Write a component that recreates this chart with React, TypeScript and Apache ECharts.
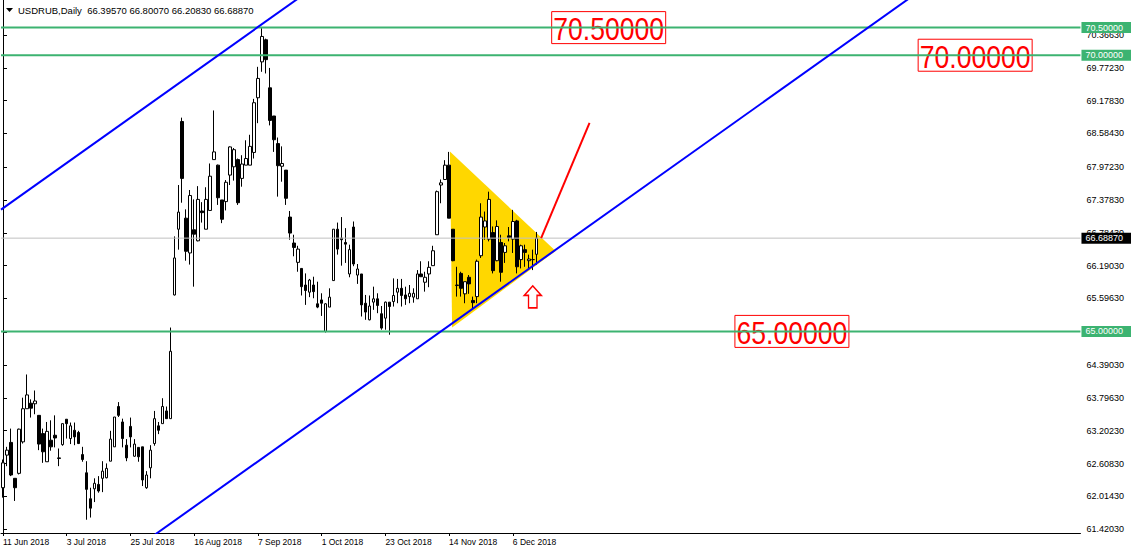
import React, { useEffect, useRef } from "react";
import * as echarts from "echarts";

const SYMBOL = "USDRUB";
const PERIOD = "Daily";
const SLOT_COUNT = 271;
const LABEL_STEP = 16;
const dateLabels = ["11 Jun 2018", "3 Jul 2018", "25 Jul 2018", "16 Aug 2018", "7 Sep 2018", "1 Oct 2018", "23 Oct 2018", "14 Nov 2018", "6 Dec 2018"];

const opens = [
  62.17, 62.76, 62.99, 62.34, 62.43, 63.0, 63.6, 63.7, 63.69, 63.48,
  63.15, 62.64, 63.03, 63.12, 62.71, 62.95, 63.41, 63.06, 63.21, 63.17,
  62.77, 62.44, 61.97, 62.15, 62.23, 62.34, 62.35, 62.65, 62.91, 63.64,
  63.36, 62.94, 63.28, 62.74, 62.9, 62.91, 62.17, 62.53, 62.97, 63.29,
  63.33, 63.56, 63.42, 65.66, 66.85, 68.8, 67.05, 66.42, 66.84, 66.64,
  67.18, 66.85, 67.19, 68.11, 68.01, 67.38, 67.35, 67.83, 67.98, 68.11,
  67.77, 68.01, 68.01, 68.24, 69.23, 69.88, 70.28, 69.41, 68.9, 68.4,
  67.99, 67.92, 67.07, 66.6, 66.25, 66.14, 65.84, 65.71, 65.84, 65.5,
  65.57, 65.0, 65.44, 65.92, 66.85, 66.69, 66.61, 66.04, 66.89, 66.02,
  66.04, 65.51, 65.21, 65.53, 65.59, 65.32, 65.24, 65.53, 65.54, 65.71,
  65.78, 65.66, 65.63, 65.62, 65.59, 66.04, 65.89, 66.04, 66.19, 66.75,
  67.65, 67.75, 68.01, 66.85, 65.83, 66.05, 65.68, 65.98, 65.56, 65.63,
  66.37, 66.89, 66.67, 66.79, 66.28, 66.61, 66.43, 66.73, 66.67, 67.0,
  66.3, 66.48, 66.28, 66.3, 66.3957
];
const closes = [
  62.62, 62.85, 62.4, 62.17, 63.23, 63.6, 63.85, 63.61, 63.74, 62.96,
  62.82, 63.19, 62.91, 63.07, 62.7, 63.33, 63.33, 63.29, 63.09, 62.97,
  62.68, 62.14, 61.8, 62.25, 62.11, 62.47, 62.52, 63.05, 63.45, 63.48,
  63.06, 62.71, 63.09, 62.96, 62.73, 62.31, 62.4, 62.85, 63.42, 63.21,
  63.64, 63.42, 64.64, 66.33, 67.16, 67.77, 66.45, 67.46, 66.76, 67.39,
  67.15, 67.39, 67.81, 68.25, 67.42, 67.03, 67.7, 68.34, 68.29, 67.33,
  68.03, 68.13, 68.35, 69.14, 69.58, 70.34, 69.92, 68.82, 68.47, 68.0,
  68.04, 67.41, 66.78, 66.52, 66.49, 65.81, 65.74, 65.93, 65.72, 65.44,
  65.51, 65.5, 65.62, 66.85, 66.49, 66.66, 66.58, 66.48, 66.22, 66.13,
  65.48, 65.35, 65.46, 65.59, 65.47, 65.06, 65.53, 65.45, 65.65, 65.78,
  65.65, 65.59, 65.69, 65.69, 66.04, 65.99, 65.98, 66.16, 66.46, 67.53,
  67.69, 68.01, 67.05, 66.28, 65.84, 65.78, 65.9, 65.86, 65.52, 66.27,
  67.07, 67.0, 67.39, 66.1, 66.9, 66.07, 66.55, 66.7, 66.99, 66.17,
  66.55, 66.43, 66.31, 66.3, 66.6887
];
const lows = [
  61.99, 62.56, 62.38, 61.93, 62.41, 62.97, 63.6, 63.44, 63.5, 62.85,
  62.62, 62.64, 62.84, 62.9, 62.56, 62.93, 63.06, 62.96, 62.94, 62.96,
  62.64, 61.59, 61.63, 61.91, 62.08, 62.09, 62.34, 62.65, 62.91, 63.45,
  62.9, 62.65, 62.9, 62.73, 62.64, 62.2, 62.15, 62.34, 62.93, 63.14,
  63.33, 63.42, 63.42, 65.65, 66.48, 67.33, 66.28, 66.21, 65.81, 66.63,
  66.97, 66.85, 67.19, 68.11, 67.29, 66.96, 67.19, 67.65, 67.73, 67.29,
  67.62, 68.01, 68.01, 68.13, 68.77, 69.7, 69.67, 68.73, 68.25, 67.44,
  67.71, 67.29, 66.66, 66.36, 66.08, 65.65, 65.48, 65.62, 65.6, 65.42,
  65.28, 64.98, 65.44, 65.92, 66.39, 66.19, 66.24, 65.98, 66.18, 65.86,
  65.27, 65.21, 65.2, 65.39, 65.33, 65.03, 65.03, 64.94, 65.45, 65.51,
  65.45, 65.48, 65.51, 65.52, 65.59, 65.99, 65.72, 65.8, 66.19, 66.75,
  67.32, 67.75, 67.05, 66.27, 65.63, 65.63, 65.51, 65.68, 65.42, 65.51,
  66.33, 66.66, 66.63, 66.05, 66.27, 65.9, 66.24, 66.63, 66.42, 66.05,
  66.14, 66.17, 66.14, 66.11, 66.2083
];
const highs = [
  62.68, 62.91, 63.24, 62.34, 63.24, 63.8, 64.22, 63.77, 63.93, 63.48,
  63.24, 63.36, 63.39, 63.48, 62.88, 63.33, 63.41, 63.35, 63.35, 63.2,
  62.91, 62.65, 62.17, 62.34, 62.38, 62.65, 62.61, 63.2, 63.45, 63.72,
  63.42, 63.05, 63.44, 63.05, 62.9, 62.91, 62.47, 62.94, 63.56, 63.36,
  63.79, 63.64, 65.07, 66.72, 67.65, 68.87, 67.21, 67.56, 67.39, 67.63,
  67.34, 67.61, 68.04, 69.0, 68.02, 67.38, 67.74, 68.35, 68.32, 68.13,
  68.19, 68.46, 68.56, 69.21, 69.79, 70.49, 70.3, 69.77, 68.9, 68.51,
  68.35, 67.92, 67.18, 66.75, 66.55, 66.14, 66.05, 65.95, 65.99, 65.9,
  65.69, 65.51, 65.78, 66.85, 66.97, 67.07, 66.87, 66.57, 66.99, 66.22,
  66.04, 65.66, 65.65, 65.81, 65.69, 65.46, 65.54, 65.53, 65.96, 65.95,
  65.95, 65.81, 65.84, 65.78, 66.11, 66.27, 66.08, 66.27, 66.55, 67.55,
  67.75, 68.1, 68.25, 66.85, 66.17, 66.08, 65.9, 66.02, 65.63, 66.3,
  67.32, 67.17, 67.53, 66.9, 67.01, 66.75, 66.6, 66.89, 67.2, 67.02,
  66.57, 66.57, 66.39, 66.48, 66.8007
];

const yTickValues = [61.4203, 62.0143, 62.6083, 63.2023, 63.7963, 64.3903, 64.9843, 65.5963, 66.1903, 66.7843, 67.3783, 67.9723, 68.5843, 69.1783, 69.7723, 70.3663];
const Y_MIN = 61.35;
const Y_MAX = 71.0;

const levels = [70.5, 70.0, 65.0];
const bidPrice = 66.6887;
const channelUpper = [[-0.5, 67.205], [80, 71.33]];
const channelLower = [[30, 60.903], [240, 71.67]];
const triangleX = [112.2, 138.75, 112.75];
const triangleY = [68.255, 66.457, 65.072];
const projection = [[135.1, 66.687], [147.25, 68.774]];
const arrowAt = [133, 65.625];
const levelTextAt = [[137.75, 70.5], [229.75, 70.0], [183.75, 65.0]];

const SMALL_FONT = "Liberation Sans, Arial, sans-serif";
const BIG_FONT = '"Liberation Sans", Arial, sans-serif';
const GREEN = "#3cb371";
const BLUE = "#0000ff";
const RED = "#ff0000";

const labelIndex = (i: number) => i % LABEL_STEP === 0 && i / LABEL_STEP < dateLabels.length;

export default function App() {
  const ref = useRef<HTMLDivElement>(null);
  useEffect(() => {
    document.body.style.margin = "0";
    if (!ref.current) return;
    const chart = echarts.init(ref.current, null, { renderer: "svg" });
    const categories = Array.from({ length: SLOT_COUNT }, (_, i) => String(i));
    const candles = opens.map((o, i) => [o, closes[i], lows[i], highs[i]]);
    const last = opens.length - 1;
    const titleText = `${SYMBOL},${PERIOD}  ${opens[last].toFixed(5)} ${highs[last].toFixed(5)} ${lows[last].toFixed(5)} ${closes[last].toFixed(5)}`;

    const hLine = (v: number, color: string, width: number) => ({
      type: "line",
      xAxisIndex: 1,
      yAxisIndex: 0,
      data: [[-0.5, v], [SLOT_COUNT - 0.5, v]],
      symbol: "none",
      silent: true,
      lineStyle: { color, width },
    });

    const option: any = {
      animation: false,
      backgroundColor: "#ffffff",
      grid: { left: 1, right: 48, top: 0, height: 533 },
      xAxis: [
        {
          type: "category",
          data: categories,
          boundaryGap: true,
          axisLine: { show: true, lineStyle: { color: "#000", width: 1 } },
          axisTick: { show: true, alignWithLabel: true, interval: (i: number) => labelIndex(i), length: 3, lineStyle: { color: "#000" } },
          axisLabel: {
            interval: (i: number) => labelIndex(i),
            formatter: (_v: string, i: number) => (labelIndex(i) ? dateLabels[i / LABEL_STEP] : ""),
            align: "left",
            margin: 4,
            fontSize: 8.5,
            fontFamily: SMALL_FONT,
            color: "#000",
          },
          splitLine: { show: false },
        },
        { type: "value", min: -0.5, max: SLOT_COUNT - 0.5, show: false },
      ],
      yAxis: [
        {
          type: "value",
          position: "right",
          min: Y_MIN,
          max: Y_MAX,
          axisLine: { show: true, lineStyle: { color: "#000", width: 1 } },
          axisTick: { show: true, customValues: yTickValues, length: 4, lineStyle: { color: "#000" } },
          axisLabel: {
            customValues: yTickValues,
            formatter: (v: number) => v.toFixed(5),
            margin: 6,
            fontSize: 9,
            fontFamily: SMALL_FONT,
            color: "#000",
          },
          splitLine: { show: false },
        },
        {
          type: "value",
          position: "right",
          min: Y_MIN,
          max: Y_MAX,
          z: 5,
          axisLine: { show: false },
          axisTick: { show: false },
          splitLine: { show: false },
          axisLabel: {
            customValues: [...levels, bidPrice],
            formatter: (v: number) => (v === bidPrice ? `{b|${v.toFixed(5)}}` : `{g|${v.toFixed(5)}}`),
            margin: 1,
            rich: {
              g: { backgroundColor: GREEN, color: "#fff", padding: [1, 8, 1, 4], fontSize: 9, fontFamily: SMALL_FONT },
              b: { backgroundColor: "#000", color: "#fff", padding: [1, 8, 1, 4], fontSize: 9, fontFamily: SMALL_FONT },
            },
          },
        },
      ],
      graphic: [
        { type: "polygon", shape: { points: [[6, 8], [13, 8], [9.5, 12]] }, style: { fill: "#000" } },
        { type: "text", x: 18, y: 10, style: { text: titleText, font: `9.5px ${SMALL_FONT}`, fill: "#000", verticalAlign: "middle", textVerticalAlign: "middle" } },
      ],
      series: [
        {
          type: "custom",
          xAxisIndex: 1,
          yAxisIndex: 0,
          silent: true,
          data: [[triangleX[0], triangleY[0]]],
          renderItem: (_p: any, api: any) => ({
            type: "polygon",
            shape: { points: triangleX.map((x, k) => api.coord([x, triangleY[k]])) },
            style: { fill: "#ffd700" },
          }),
        },
        hLine(bidPrice, "#c0c0c0", 1),
        {
          type: "candlestick",
          xAxisIndex: 0,
          yAxisIndex: 0,
          data: candles,
          barWidth: 3,
          silent: true,
          itemStyle: { color: "#fff", color0: "#000", borderColor: "#000", borderColor0: "#000", borderColorDoji: "#000", borderWidth: 1 },
        },
        {
          type: "custom",
          xAxisIndex: 1,
          yAxisIndex: 0,
          silent: true,
          data: levelTextAt,
          renderItem: (p: any, api: any) => {
            const c = api.coord([api.value(0), api.value(1)]);
            return {
              type: "group",
              children: [
                { type: "rect", shape: { x: c[0], y: c[1] - 16, width: 114, height: 32 }, style: { fill: "none", stroke: RED, lineWidth: 1 } },
                {
                  type: "text",
                  x: c[0] + 57,
                  y: c[1] + 1,
                  scaleX: 0.83,
                  style: {
                    text: levelTextAt[p.dataIndex][1].toFixed(5),
                    x: 0,
                    y: 0,
                    align: "center",
                    verticalAlign: "middle",
                    textAlign: "center",
                    textVerticalAlign: "middle",
                    font: `32px ${BIG_FONT}`,
                    fill: RED,
                  },
                },
              ],
            };
          },
        },
        ...levels.map((v) => hLine(v, GREEN, 2)),
        { type: "line", xAxisIndex: 1, yAxisIndex: 0, data: channelUpper, symbol: "none", silent: true, clip: true, lineStyle: { color: BLUE, width: 2 } },
        { type: "line", xAxisIndex: 1, yAxisIndex: 0, data: channelLower, symbol: "none", silent: true, clip: true, lineStyle: { color: BLUE, width: 2 } },
        {
          type: "line",
          xAxisIndex: 1,
          yAxisIndex: 0,
          data: projection,
          symbol: "none",
          silent: true,
          lineStyle: { color: RED, width: 2 },
          markPoint: {
            silent: true,
            symbol: "path://M9 0 L18 10 L13.5 10 L13.5 23 L4.5 23 L4.5 10 L0 10 Z",
            symbolSize: [17, 22],
            itemStyle: { color: "#fff", borderColor: RED, borderWidth: 1.5 },
            label: { show: false },
            data: [{ coord: arrowAt }],
          },
        },
      ],
    };
    chart.setOption(option);
    return () => chart.dispose();
  }, []);
  return <div ref={ref} style={{ width: 1134, height: 554 }} />;
}
